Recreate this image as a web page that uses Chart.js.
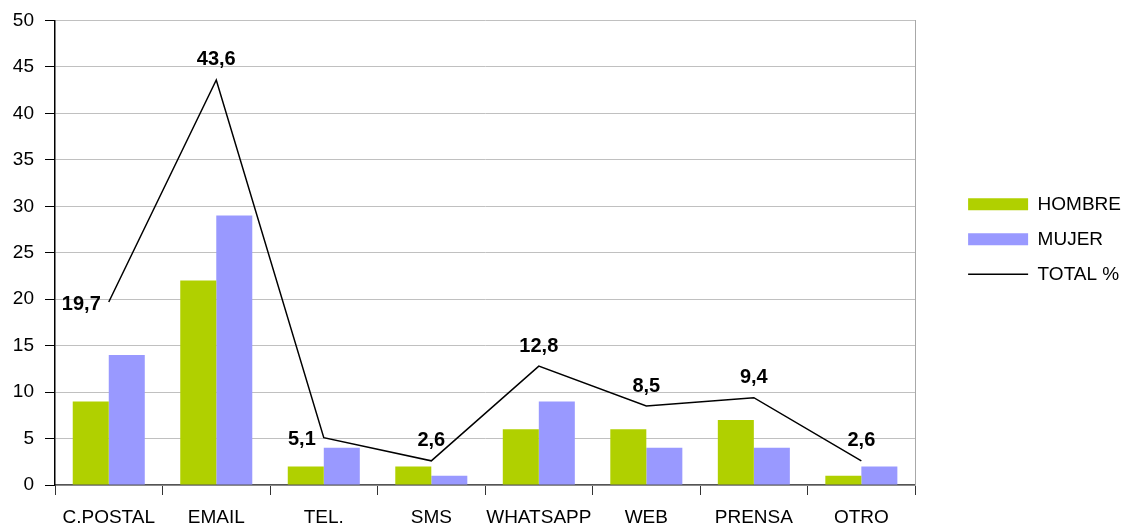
<!DOCTYPE html>
<html lang="es">
<head>
    <meta charset="UTF-8">
    <title>Medio preferido</title>
    <script src="https://cdn.jsdelivr.net/npm/chart.js"></script>
    <style>
        body { margin: 0; background: #fff; }
        #wrap { width: 1131px; height: 527px; }
    </style>
</head>
<body>

    <div id="wrap"><canvas id="chartCanvas"></canvas></div>

    <script>
        // Data
        const categories = ['C.POSTAL', 'EMAIL', 'TEL.', 'SMS', 'WHATSAPP', 'WEB', 'PRENSA', 'OTRO'];
        const hombre = [9, 22, 2, 2, 6, 6, 7, 1];
        const mujer = [14, 29, 4, 1, 9, 4, 4, 2];
        const total = [19.7, 43.6, 5.1, 2.6, 12.8, 8.5, 9.4, 2.6];
        const yTicks = [0, 5, 10, 15, 20, 25, 30, 35, 40, 45, 50];

        // where each TOTAL % label sits relative to its point
        const labelSide = ['left', 'above', 'left', 'above', 'above', 'above', 'above', 'above'];

        const FONT = 'Liberation Sans, Arial, sans-serif';

        // draws the value labels of the line
        const totalLabels = {
            id: 'totalLabels',
            afterDatasetsDraw(chart) {
                const meta = chart.getDatasetMeta(0);
                const ctx = chart.ctx;
                ctx.save();
                ctx.font = 'bold 20px ' + FONT;
                ctx.fillStyle = '#000';
                ctx.textBaseline = 'middle';
                meta.data.forEach((pt, i) => {
                    const txt = String(total[i]).replace('.', ',');
                    if (labelSide[i] === 'left') {
                        ctx.textAlign = 'right';
                        ctx.fillText(txt, pt.x - 8, pt.y + 2);
                    } else {
                        ctx.textAlign = 'center';
                        ctx.fillText(txt, pt.x, pt.y - 20);
                    }
                });
                ctx.restore();
            }
        };

        const ctx = document.getElementById('chartCanvas').getContext('2d');

        let chart = new Chart(ctx, {
            data: {
                labels: categories,
                datasets: [{
                    type: 'line',
                    label: 'TOTAL %',
                    data: total,
                    borderColor: '#000',
                    backgroundColor: '#000',
                    borderWidth: 1.5,
                    pointRadius: 0,
                    pointStyle: 'line',
                    tension: 0,
                    order: 0
                }, {
                    type: 'bar',
                    label: 'HOMBRE',
                    data: hombre,
                    backgroundColor: '#b0d000',
                    borderWidth: 0,
                    pointStyle: 'rect',
                    barPercentage: 1.0,
                    categoryPercentage: 0.67,
                    order: 1
                }, {
                    type: 'bar',
                    label: 'MUJER',
                    data: mujer,
                    backgroundColor: '#9999ff',
                    borderWidth: 0,
                    pointStyle: 'rect',
                    barPercentage: 1.0,
                    categoryPercentage: 0.67,
                    order: 1
                }]
            },
            options: {
                responsive: true,
                maintainAspectRatio: false,
                animation: false,
                layout: { padding: { top: 7, right: 0, bottom: 0, left: 0 } },
                scales: {
                    x: {
                        offset: true,
                        afterFit: (scale) => { scale.height = 42; },
                        grid: {
                            drawOnChartArea: false,
                            drawTicks: true,
                            tickLength: 10,
                            tickColor: '#333'
                        },
                        border: { color: '#555', width: 1.5 },
                        ticks: {
                            color: '#000',
                            font: { family: FONT, size: 19 },
                            padding: 11,
                            maxRotation: 0,
                            autoSkip: false
                        }
                    },
                    y: {
                        min: 0,
                        max: 50,
                        afterBuildTicks: (scale) => {
                            scale.ticks = yTicks.map(v => ({ value: v }));
                        },
                        afterFit: (scale) => { scale.width = 55; },
                        grid: {
                            color: '#c0c0c0',
                            tickColor: '#000',
                            tickLength: 10
                        },
                        border: { color: '#000', width: 1.5 },
                        ticks: {
                            color: '#000',
                            font: { family: FONT, size: 19, lineHeight: 1.0 },
                            padding: 11
                        }
                    },
                    yRight: {
                        position: 'right',
                        display: true,
                        afterFit: (scale) => { scale.width = 37; },
                        grid: { display: false },
                        border: { color: '#a8a8a8', width: 1 },
                        ticks: { display: false }
                    }
                },
                plugins: {
                    tooltip: { enabled: false },
                    legend: {
                        position: 'right',
                        align: 'start',
                        title: {
                            display: true,
                            text: ' ',
                            font: { family: FONT, size: 19 },
                            padding: { top: 149, bottom: 0 }
                        },
                        labels: {
                            usePointStyle: true,
                            pointStyleWidth: 60,
                            boxHeight: 12,
                            padding: 16,
                            color: '#000',
                            font: { family: FONT, size: 19 },
                            sort: (a, b) => a.datasetIndex === 0 ? 1 : (b.datasetIndex === 0 ? -1 : a.datasetIndex - b.datasetIndex)
                        }
                    }
                }
            },
            plugins: [totalLabels]
        });
    </script>

</body>
</html>
